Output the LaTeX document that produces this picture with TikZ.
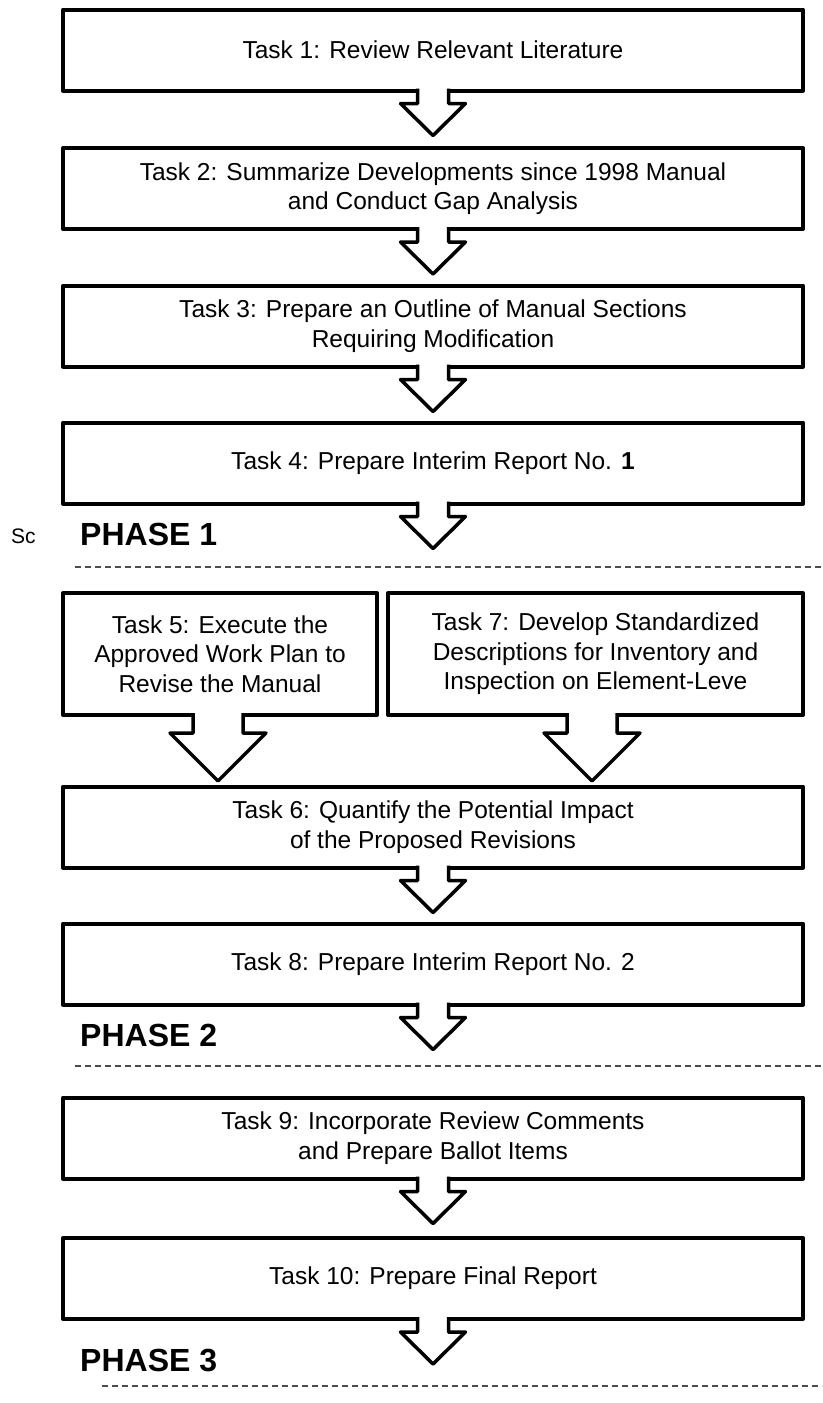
\documentclass[tikz,border=0pt]{standalone}
\usepackage{fontspec}
\setmainfont{Liberation Sans}
\usetikzlibrary{calc}
% hollow block arrow hanging under a box:
% #1 box, #2 x shift, #3 half stem, #4 half head, #5 stem length, #6 head length
\newcommand{\blockarrow}[6]{%
	\fill[white] ($(#1.south)+(#2-#3,-2.5)$) rectangle ($(#1.south)+(#2+#3,#5)$);
	\draw[arrowline] ($(#1.south)+(#2-#3,-2)$) -- ++(0,#5+2) -- ++(#3-#4,0)
		-- ++(#4,#6) -- ++(#4,-#6) -- ++(#3-#4,0) -- ++(0,-#5-2);
}

\begin{document}
\begin{tikzpicture}[x=1pt,y=-1pt]
	% `task' is used for the boxes, `arrowline' for the block arrows.
	% `phase' and `divider' mark the end of each phase.
	\tikzstyle{task} = [draw,line width=4pt,line join=round,fill=white,inner sep=0pt,outer sep=0pt,
		minimum width=740pt,minimum height=81pt,align=center,font=\fontsize{24.5}{29.5}\selectfont]
	\tikzstyle{arrowline} = [line width=3.5pt,line join=round]
	\tikzstyle{phase} = [anchor=west,inner sep=0pt,font=\bfseries\fontsize{32}{32}\selectfont]
	\tikzstyle{divider} = [line width=1.5pt,black!70,dash pattern=on 6pt off 4pt]
	\useasboundingbox (0,0) rectangle (822,1403);
	%
	% Phase 1.
	\node[task] (t1) at (433,50) {Task 1: Review Relevant Literature};
	\node[task] (t2) at (433,188.5) {Task 2: Summarize Developments since 1998 Manual\\and Conduct Gap Analysis};
	\node[task] (t3) at (433,326) {Task 3: Prepare an Outline of Manual Sections\\Requiring Modification};
	\node[task] (t4) at (433,463) {Task 4: Prepare Interim Report No. \textbf{1}};
	\node[anchor=west,inner sep=0pt,font=\fontsize{21}{21}\selectfont] (sc) at (11,536) {Sc};
	\node[phase] (ph1) at (80,534) {PHASE 1};
	\draw[divider] (75,567) -- (822,567);
	%
	% Phase 2.
	\node[task,minimum width=314pt,minimum height=122pt] (t5) at (220,654) {Task 5: Execute the\\Approved Work Plan to\\Revise the Manual};
	\node[task,minimum width=415pt,minimum height=122pt] (t7) at (595.5,654) {Task 7: Develop Standardized\\Descriptions for Inventory and\\Inspection on Element-Leve};
	\node[task] (t6) at (433,827) {Task 6: Quantify the Potential Impact\\of the Proposed Revisions};
	\node[task] (t8) at (433,964) {Task 8: Prepare Interim Report No. 2};
	\node[phase] (ph2) at (80,1035) {PHASE 2};
	\draw[divider] (75,1066) -- (822,1066);
	%
	% Phase 3.
	\node[task] (t9) at (433,1138) {Task 9: Incorporate Review Comments\\and Prepare Ballot Items};
	\node[task] (t10) at (433,1278.5) {Task 10: Prepare Final Report};
	\node[phase] (ph3) at (80,1360) {PHASE 3};
	\draw[divider] (102,1386) -- (822,1386);
	%
	% Arrows.
	\blockarrow{t1}{0}{15.5}{32.5}{13}{32}
	\blockarrow{t2}{0}{15.5}{32.5}{13}{32}
	\blockarrow{t3}{0}{15.5}{32.5}{13}{32}
	\blockarrow{t4}{0}{15.5}{32.5}{13}{32}
	\blockarrow{t5}{-2}{25}{48}{18}{48}
	\blockarrow{t7}{-3.5}{25}{48}{18}{48}
	\blockarrow{t6}{0}{15.5}{32.5}{13}{32}
	\blockarrow{t8}{0}{15.5}{32.5}{13}{32}
	\blockarrow{t9}{0}{15.5}{32.5}{13}{32}
	\blockarrow{t10}{0}{15.5}{32.5}{13}{32}
\end{tikzpicture}
\end{document}
